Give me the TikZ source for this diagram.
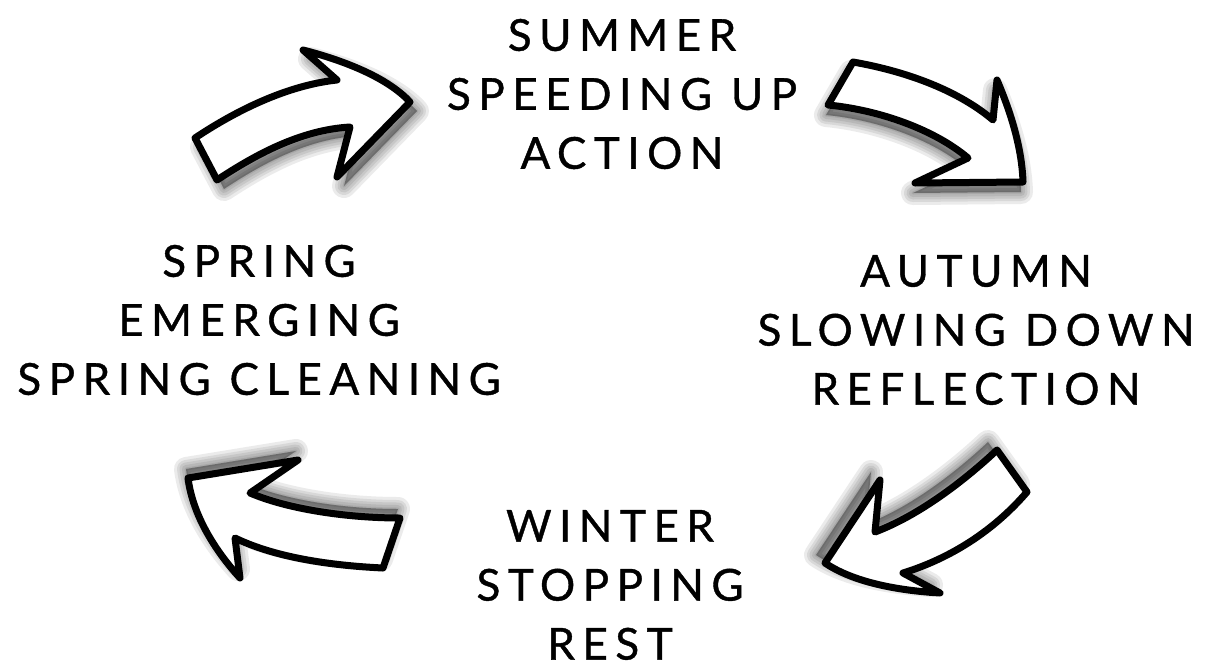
\documentclass[tikz,border=0pt]{standalone}
\usepackage{fontspec}
\setmainfont{Lato}[LetterSpace=17,FakeBold=0.9]
\begin{document}
\begin{tikzpicture}[x=1pt,y=-1pt,
  season/.style={align=center,inner sep=0pt,font=\fontsize{44}{59}\selectfont},
  arrowbody/.style={draw=black,fill=white,line width=7pt,line join=round},
  shade/.style={draw=black,fill=black,line join=round,opacity=0.08}]
\useasboundingbox (0,0) rectangle (1210,667);
\fill[white] (0,0) rectangle (1210,667);
% arrow paths
\def\arrowA{(195,138) .. controls (240,108) and (290,85) .. (337,80) -- (303,50) .. controls (350,62) and (390,80) .. (410,102) -- (337,177) -- (350,127) .. controls (300,130) and (255,155) .. (217,180) -- cycle}
\def\arrowB{(853,62) .. controls (910,72) and (960,92) .. (993,120) -- (997,80) .. controls (1012,115) and (1022,150) .. (1023,182) -- (915,183) -- (968,158) .. controls (935,130) and (880,110) .. (828,105) -- cycle}
\def\arrowC{(997,450) -- (1027,492) .. controls (990,535) and (945,560) .. (903,573) -- (940,593) .. controls (890,590) and (850,580) .. (825,563) -- (880,480) -- (875,532) .. controls (920,515) and (965,480) .. (997,450) -- cycle}
\def\arrowD{(400,518) -- (383,568) .. controls (320,565) and (270,555) .. (235,538) -- (240,578) .. controls (210,545) and (192,510) .. (188,478) -- (298,460) -- (250,493) .. controls (290,510) and (350,518) .. (400,518) -- cycle}
% shadows
\foreach \w in {24,18,13,8,3}{
  \path[shade,line width=\w pt,shift={(7,9)}] \arrowA;
  \path[shade,line width=\w pt,shift={(-2,10)}] \arrowB;
  \path[shade,line width=\w pt,shift={(-9,-8)}] \arrowC;
  \path[shade,line width=\w pt,shift={(-2,-9)}] \arrowD;
}
% arrows
\path[arrowbody] \arrowA;
\path[arrowbody] \arrowB;
\path[arrowbody] \arrowC;
\path[arrowbody] \arrowD;
% texts
\node[season] (summer) at (622,94) {SUMMER\\SPEEDING UP\\ACTION};
\node[season] (spring) at (259,320) {SPRING\\EMERGING\\SPRING CLEANING};
\node[season] (autumn) at (976,330) {AUTUMN\\SLOWING DOWN\\REFLECTION};
\node[season] (winter) at (610,585) {WINTER\\STOPPING\\REST};
\end{tikzpicture}
\end{document}
